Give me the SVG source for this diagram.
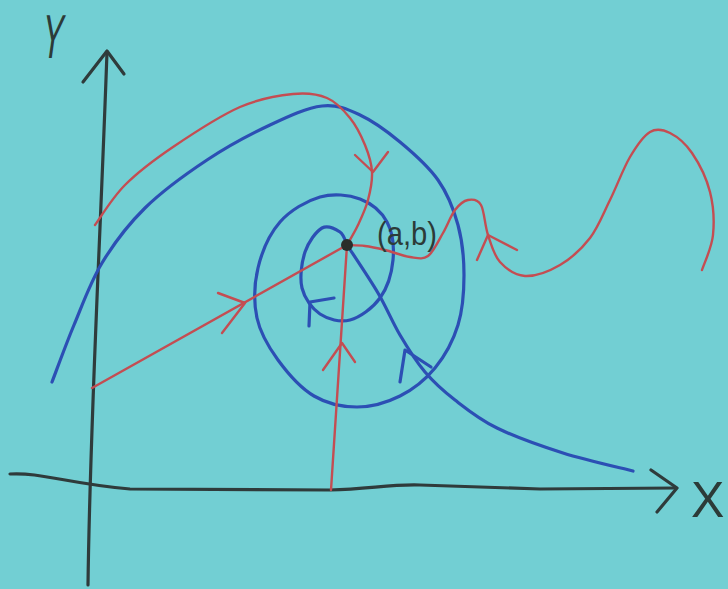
<svg xmlns="http://www.w3.org/2000/svg" width="728" height="589" viewBox="0 0 728 589">
<style>
.ax{stroke:#2f3b3b;stroke-width:3.2;fill:none;stroke-linecap:round;stroke-linejoin:round}
.bl{stroke:#2c4fb4;stroke-width:3.2;fill:none;stroke-linecap:round;stroke-linejoin:round}
.rd{stroke:#c44d52;stroke-width:2.4;fill:none;stroke-linecap:round;stroke-linejoin:round}
.lbl{font-family:"Liberation Sans",Arial,sans-serif;fill:#2c3b38}
</style>
<rect width="728" height="589" fill="#72cfd3"/>
<g id="axes">
  <g id="y-axis">
    <path class="ax" d="M 88 585 C 90 420, 100 250, 107 52"/>
    <path class="ax" d="M 83 82 L 107 51 L 124 74"/>
    <text class="lbl" transform="translate(40,58) skewX(-8) scale(0.5,1)" font-size="62">Y</text>
  </g>
  <g id="x-axis">
    <path class="ax" d="M 10 474 C 40 472, 70 484, 130 489 L 330 490 C 370 489, 390 484, 420 485 L 540 489 L 676 488"/>
    <path class="ax" d="M 651 470 L 677 488 L 657 512"/>
    <text class="lbl" x="691" y="517" font-size="50">X</text>
  </g>
</g>
<g id="connectors">
  <g id="blue-spiral">
    <path class="bl" d="M 52 382 C 55.7 372.5 65.7 344.8 74 325 C 82.3 305.2 90.2 282.5 102 263 C 113.8 243.5 127.5 225.2 145 208 C 162.5 190.8 186.2 173.8 207 160 C 227.8 146.2 250.8 134 270 125 C 289.2 116 307 107.7 322 106 C 337 104.3 347 109 360 115 C 373 121 387 131.2 400 142 C 413 152.8 428.3 166.2 438 180 C 447.7 193.8 453.7 209.2 458 225 C 462.3 240.8 464 258.3 464 275 C 464 291.7 462.8 309.5 458 325 C 453.2 340.5 444.7 356.2 435 368 C 425.3 379.8 413 389.5 400 396 C 387 402.5 371.3 407 357 407 C 342.7 407 327.2 403.8 314 396 C 300.8 388.2 287.5 373 278 360 C 268.5 347 260.3 333.3 257 318 C 253.7 302.7 254.2 284 258 268 C 261.8 252 269.7 233.8 280 222 C 290.3 210.2 306.7 200.8 320 197 C 333.3 193.2 348.8 194.8 360 199 C 371.2 203.2 381.5 211.8 387 222 C 392.5 232.2 394.2 247.3 393 260 C 391.8 272.7 387.2 288 380 298 C 372.8 308 360 317.3 350 320 C 340 322.7 328 319.3 320 314 C 312 308.7 304.5 298.3 302 288 C 299.5 277.7 301.7 262 305 252 C 308.3 242 316.2 231.3 322 228 C 327.8 224.7 335.8 229.2 340 232 C 344.2 234.8 345.8 242.8 347 245"/>
    <path class="bl" d="M 309 326 L 310 302 L 334 298"/>
  </g>
  <g id="blue-trajectory">
    <path class="bl" d="M 633 471 C 621.3 468 585.7 460.2 563 453 C 540.3 445.8 515 436.8 497 428 C 479 419.2 467 409.3 455 400 C 443 390.7 434.2 382.8 425 372 C 415.8 361.2 407.8 348.2 400 335 C 392.2 321.8 386.8 308 378 293 C 369.2 278 352.2 253 347 245"/>
    <path class="bl" d="M 400 382 L 405 350 L 431 367"/>
  </g>
  <g id="red-arc">
    <path class="rd" d="M 95 225 C 100 218.3 112 198 125 185 C 138 172 153.8 160 173 147 C 192.2 134 220 115.8 240 107 C 260 98.2 278.5 95.5 293 94 C 307.5 92.5 317.5 94 327 98 C 336.5 102 343.7 110.2 350 118 C 356.3 125.8 361.3 136 365 145 C 368.7 154 371.5 162.8 372 172 C 372.5 181.2 370.3 191.2 368 200 C 365.7 208.8 361.5 217.5 358 225 C 354.5 232.5 348.8 241.7 347 245"/>
    <path class="rd" d="M 355 155 L 373 172 L 388 152"/>
  </g>
  <g id="red-line">
    <path class="rd" d="M 92 388 L 347 245"/>
    <path class="rd" d="M 218 293 L 245 303 L 222 333"/>
  </g>
  <g id="red-vertical">
    <path class="rd" d="M 331 490 Q 339 360 347 245"/>
    <path class="rd" d="M 323 370 L 342 343 L 355 362"/>
  </g>
  <g id="red-wave">
    <path class="rd" d="M 347 245 C 350 245.2 358.7 245.2 365 246 C 371.3 246.8 377.5 248.2 385 250 C 392.5 251.8 402.8 256 410 257 C 417.2 258 422.5 260 428 256 C 433.5 252 438.5 240.7 443 233 C 447.5 225.3 450.8 215.5 455 210 C 459.2 204.5 463.7 200.8 468 200 C 472.3 199.2 477.7 199.2 481 205 C 484.3 210.8 484.8 225.5 488 235 C 491.2 244.5 493.8 255.2 500 262 C 506.2 268.8 515 275.5 525 276 C 535 276.5 549.2 271.3 560 265 C 570.8 258.7 581.7 248.8 590 238 C 598.3 227.2 603.3 213.5 610 200 C 616.7 186.5 623.3 168.3 630 157 C 636.7 145.7 643.3 136 650 132 C 656.7 128 663 129.5 670 133 C 677 136.5 685.3 143.2 692 153 C 698.7 162.8 706.5 178.3 710 192 C 713.5 205.7 714.3 222 713 235 C 711.7 248 703.8 264.2 702 270"/>
    <path class="rd" d="M 477 260 L 488 235 L 517 250" stroke-width="3"/>
  </g>
</g>
<g id="node-ab">
  <circle cx="347" cy="245" r="6" fill="#2a2e2a"/>
  <text class="lbl" x="377" y="245" font-size="33" textLength="60" lengthAdjust="spacingAndGlyphs">(a,b)</text>
</g>
</svg>
